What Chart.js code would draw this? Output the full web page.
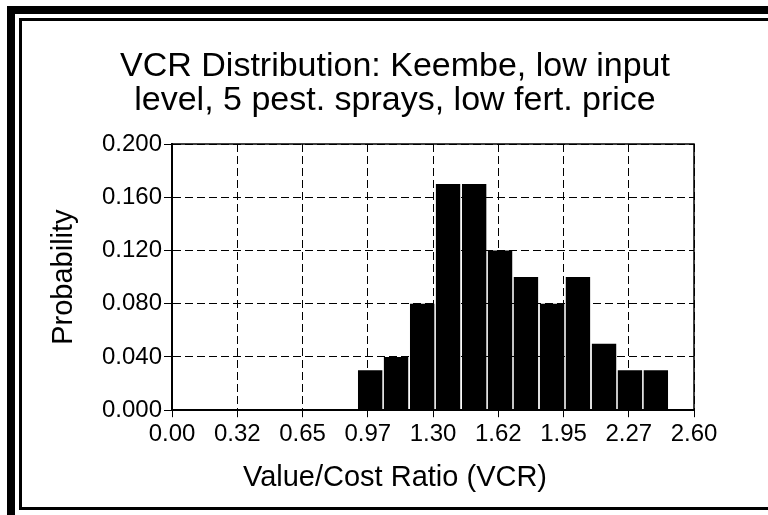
<!DOCTYPE html>
<html>
<head>
<meta charset="utf-8">
<script src="https://cdn.jsdelivr.net/npm/chart.js@4.4.1/dist/chart.umd.min.js"></script>
<style>
    html, body { margin: 0; padding: 0; background: #fff; overflow: hidden; }
    body { width: 768px; height: 515px; position: relative; }
    .outer { position: absolute; left: 7px; top: 6px; width: 2000px; height: 2000px;
             border-left: 8px solid #000; border-top: 8px solid #000; }
    .inner { position: absolute; left: 19px; top: 18px; width: 2000px; height: 486px;
             border: 3px solid #000; }
    #wrap { position: absolute; left: 0; top: 0; width: 768px; height: 515px; }
</style>
</head>
<body>
<div class="outer"></div>
<div class="inner"></div>
<div id="wrap"><canvas id="myChart"></canvas></div>
<script>
// bin centres of the VCR histogram and the probability of each bin
const binCenters = [0.987, 1.116, 1.246, 1.375, 1.505, 1.634, 1.763, 1.893, 2.022, 2.152, 2.281, 2.410];
const probabilities = [0.03, 0.04, 0.08, 0.17, 0.17, 0.12, 0.10, 0.08, 0.10, 0.05, 0.03, 0.03];

// axis ticks as printed on the original
const xTickValues = [0, 0.325, 0.65, 0.975, 1.3, 1.625, 1.95, 2.275, 2.6];
const xTickLabels = ['0.00', '0.32', '0.65', '0.97', '1.30', '1.62', '1.95', '2.27', '2.60'];
const yTickValues = [0, 0.04, 0.08, 0.12, 0.16, 0.2];
const yTickLabels = ['0.000', '0.040', '0.080', '0.120', '0.160', '0.200'];

const titleLines = ['VCR Distribution: Keembe, low input', 'level, 5 pest. sprays, low fert. price'];
const xTitle = 'Value/Cost Ratio (VCR)';
const yTitle = 'Probability';

const fontFamily = '"Liberation Sans", Arial, sans-serif';

// solid box round the plot area (top and right edges)
const plotFrame = {
    id: 'plotFrame',
    afterDraw(chart) {
        const a = chart.chartArea;
        const c = chart.ctx;
        c.save();
        c.strokeStyle = '#000';
        c.lineWidth = 1.5;
        c.strokeRect(a.left, a.top, a.right - a.left, a.bottom - a.top);
        c.restore();
    }
};

const ctx = document.getElementById('myChart');

new Chart(ctx, {
    type: 'bar',
    data: {
        datasets: [{
            data: binCenters.map((x, i) => ({ x: x, y: probabilities[i] })),
            backgroundColor: '#000',
            borderWidth: 0,
            barPercentage: 0.94,
            categoryPercentage: 1
        }]
    },
    options: {
        responsive: true,
        maintainAspectRatio: false,
        animation: false,
        layout: { padding: { left: 22, right: 0, top: 0, bottom: 0 } },
        plugins: {
            legend: { display: false },
            tooltip: { enabled: false },
            title: {
                display: true,
                text: titleLines,
                color: '#000',
                font: { family: fontFamily, size: 34, weight: 'normal', lineHeight: 1.0 },
                padding: { top: 50, bottom: 26 }
            },
            // x axis title, centred on the whole figure like the original
            subtitle: {
                display: true,
                position: 'bottom',
                text: xTitle,
                color: '#000',
                font: { family: fontFamily, size: 29, weight: 'normal', lineHeight: 1.2 },
                padding: { top: 0, bottom: 20 }
            }
        },
        scales: {
            x: {
                type: 'linear',
                min: 0,
                max: 2.6,
                offset: false,
                afterFit(scale) { scale.height = 50; },
                afterBuildTicks(scale) { scale.ticks = xTickValues.map(v => ({ value: v })); },
                ticks: {
                    color: '#000',
                    font: { family: fontFamily, size: 24 },
                    padding: 3,
                    maxRotation: 0,
                    autoSkip: false,
                    callback: (v, i) => xTickLabels[i]
                },
                grid: {
                    offset: false,
                    color: '#000',
                    lineWidth: 1,
                    tickLength: 7,
                    tickBorderDash: [],
                    tickColor: '#000'
                },
                border: { color: '#000', width: 2, dash: [8, 4] }
            },
            y: {
                min: 0,
                max: 0.2,
                afterFit(scale) { scale.width = 150; },
                afterBuildTicks(scale) { scale.ticks = yTickValues.map(v => ({ value: v })); },
                ticks: {
                    color: '#000',
                    font: { family: fontFamily, size: 24 },
                    padding: 2,
                    callback: (v, i) => yTickLabels[i]
                },
                grid: {
                    color: '#000',
                    lineWidth: 1,
                    tickLength: 8,
                    tickBorderDash: [],
                    tickColor: '#000'
                },
                border: { color: '#000', width: 2, dash: [8, 4] },
                title: {
                    display: true,
                    text: yTitle,
                    color: '#000',
                    font: { family: fontFamily, size: 29, lineHeight: 1.2 },
                    padding: { top: 25, bottom: 0 }
                }
            },
            // empty right-hand axis that keeps the margin right of the plot
            yRight: {
                type: 'linear',
                position: 'right',
                display: true,
                afterFit(scale) { scale.width = 74; },
                ticks: { display: false },
                grid: { display: false, drawTicks: false },
                border: { display: false }
            }
        }
    },
    plugins: [plotFrame]
});
</script>
</body>
</html>
